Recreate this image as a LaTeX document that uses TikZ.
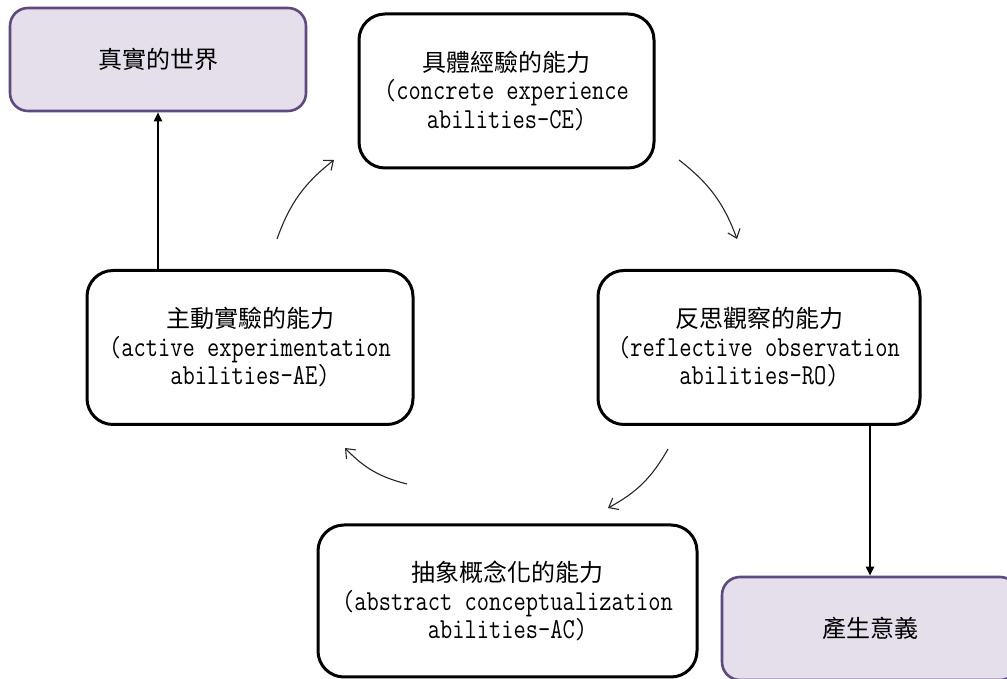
\documentclass[tikz,border=0pt]{standalone}
\usepackage{fontspec}
\newfontfamily\cjk{Noto Sans CJK TC}
\newfontfamily\latinmono[FakeStretch=0.82]{Latin Modern Mono}
\usetikzlibrary{arrows.meta}

\definecolor{worldline}{HTML}{5E4A7E}
\definecolor{worldfill}{HTML}{E5DFEC}
\newcommand{\lat}{\fontsize{29}{28.5}\latinmono}
\tikzset{
  stage/.style={draw=black, line width=3pt, rounded corners=26pt, fill=white,
    align=center, inner sep=0pt, minimum height=154pt,
    font=\fontsize{24}{28.5}\selectfont},
  world/.style={draw=worldline, line width=2.6pt, rounded corners=18pt, fill=worldfill,
    align=center, inner sep=0pt, minimum width=296pt, minimum height=103pt,
    font=\fontsize{24}{28.5}\selectfont\cjk},
  link/.style={line width=2pt, -{Triangle[length=9pt,width=8pt]}},
  cycle/.style={line width=1.1pt, draw=black!85, bend left=16,
    -{Straight Barb[length=8pt,width=13pt,line width=1.1pt]}},
}

\begin{document}
\begin{tikzpicture}[x=1pt,y=1pt]
  \useasboundingbox (0,0) rectangle (1007,679);
  \clip (0,0) rectangle (1007,679);

  % the four learning abilities
  \node[stage, minimum width=295pt] (ce) at (506.5,588)
    {{\cjk 具體經驗的能力}\\\lat (concrete experience\\\lat abilities-CE)};
  \node[stage, minimum width=322pt] (ro) at (759,331.5)
    {{\cjk 反思觀察的能力}\\\lat (reflective observation\\\lat abilities-RO)};
  \node[stage, minimum width=379pt, minimum height=152pt] (ac) at (507.5,78)
    {{\cjk 抽象概念化的能力}\\\lat (abstract conceptualization\\\lat abilities-AC)};
  \node[stage, minimum width=326pt] (ae) at (250,331.5)
    {{\cjk 主動實驗的能力}\\\lat (active experimentation\\\lat abilities-AE)};

  % outcome boxes
  \node[world] (real) at (158,619.5) {真實的世界};
  \node[world] (mean) at (870,50.5) {產生意義};

  % cycle arrows
  \coordinate (c1s) at (277,440);
  \coordinate (c1e) at (334,519);
  \coordinate (c2s) at (679,519);
  \coordinate (c2e) at (737,440);
  \coordinate (c3s) at (668,230);
  \coordinate (c3e) at (608,171);
  \coordinate (c4s) at (407,195);
  \coordinate (c4e) at (345,231);
  \draw[cycle] (c1s) to (c1e);
  \draw[cycle] (c2s) to (c2e);
  \draw[cycle] (c3s) to (c3e);
  \draw[cycle] (c4s) to (c4e);

  % links to the outcome boxes
  \draw[link] (ae.north -| real.south) -- (real.south);
  \draw[link] (ro.south -| mean.north) -- (mean.north);
\end{tikzpicture}
\end{document}
